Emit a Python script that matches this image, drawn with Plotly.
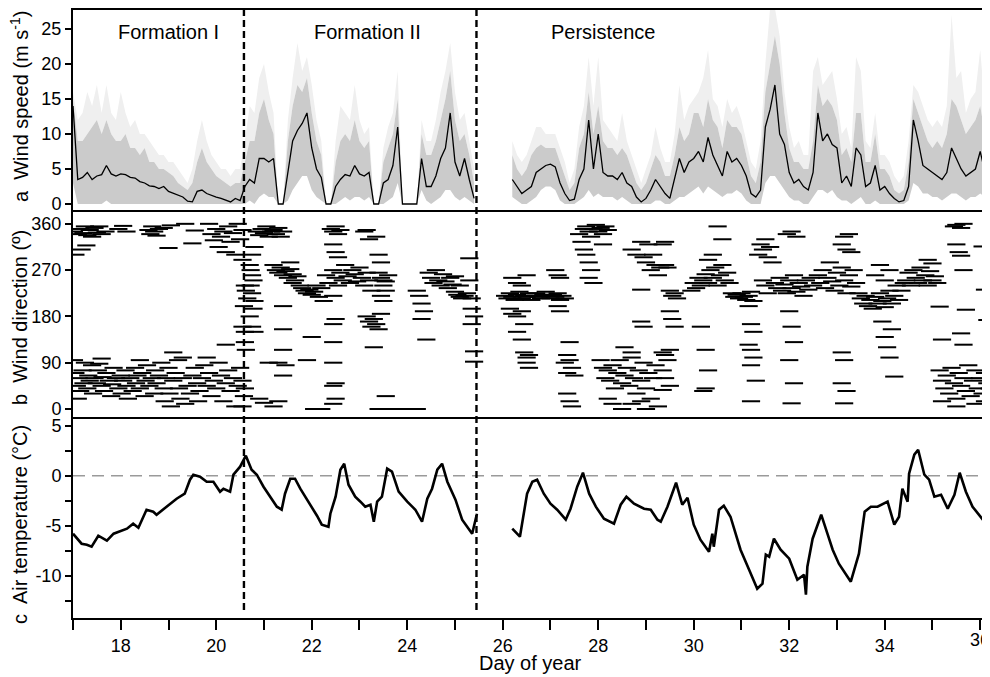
import plotly.graph_objects as go

# ---------------- DATA ----------------
# Wind speed, sampled every 0.1 day from day 17.0 to 36.2 (None = no data)
ws_start, ws_step = 17.0, 0.1
ws_mean = [14.0, 3.5, 3.8, 4.5, 3.5, 4.0, 4.2, 5.5, 4.3, 4.0,
           4.3, 4.2, 3.8, 3.7, 3.2, 3.0, 2.6, 2.5, 2.2, 2.5,
           1.8, 1.5, 1.2, 1.0, 0.4, 0.3, 1.8, 2.0, 1.5, 1.2,
           1.0, 0.8, 0.6, 0.3, 0.8, 0.5, 2.5, 3.5, 3.0, 6.5,
           6.5, 6.0, 6.5, 0, 0, 4.5, 9.0, 10.5, 11.5, 13.0,
           8.0, 5.0, 3.8, 0, 0, 2.5, 3.5, 4.2, 4.0, 5.5,
           4.3, 4.0, 4.5, 0, 0, 3.0, 3.5, 5.5, 11.0, 0,
           0, 0, 0, 6.5, 2.5, 2.5, 4.0, 6.5, 8.0, 13.0,
           6.0, 4.0, 6.5, 3.5, 0.8, None, None, None, None, None,
           None, None, 3.5, 2.5, 1.5, 2.0, 2.5, 4.5, 5.0, 5.5,
           5.7, 5.3, 3.0, 1.5, 0.5, 0.7, 3.5, 5.0, 12.0, 5.0,
           10.0, 4.5, 4.0, 4.0, 3.5, 4.5, 3.0, 2.5, 1.0, 0.3,
           0.8, 2.0, 3.5, 2.5, 1.5, 0.8, 3.5, 6.5, 4.5, 6.0,
           6.5, 7.5, 6.0, 9.5, 7.0, 5.5, 4.0, 7.5, 6.0, 6.5,
           5.5, 4.0, 1.5, 1.0, 2.0, 11.0, 13.5, 17.0, 10.0, 8.5,
           4.5, 3.0, 3.5, 2.5, 2.0, 4.5, 13.0, 9.0, 10.0, 8.5,
           8.0, 3.0, 4.0, 2.5, 8.0, 7.0, 2.5, 3.0, 5.5, 2.0,
           2.5, 1.5, 0.8, 0.3, 0.5, 2.5, 12.0, 9.0, 5.5, 5.0,
           4.5, 4.0, 3.5, 4.5, 8.0, 6.5, 5.0, 4.0, 4.5, 5.0,
           7.5, 4.5, 4.0]
ws_min = [3, 0, 0, 0, 0, 0, 0, 0.5, 0, 0,
          0, 0, 0, 0, 0, 0, 0, 0, 0, 0,
          0, 0, 0, 0, 0, 0, 0, 0, 0, 0,
          0, 0, 0, 0, 0, 0, 0, 0.5, 0, 1,
          1.5, 1, 1, 0, 0, 0.5, 2, 3, 4, 4,
          2, 1, 0.5, 0, 0, 0, 0.5, 1, 0.5, 1,
          1, 0.5, 1, 0, 0, 0, 0.5, 1, 3, 0,
          0, 0, 0, 2, 0.5, 0, 0.5, 1, 2, 2,
          1, 0.5, 1, 0.5, 0, None, None, None, None, None,
          None, None, 1, 0.5, 0, 0, 0.5, 1, 2, 2.5,
          2.5, 2, 0.5, 0, 0, 0, 0.5, 1, 2, 1,
          1.5, 1, 1, 1, 0.5, 1, 0.5, 0, 0, 0,
          0, 0, 0.5, 0.5, 0, 0, 0.5, 1, 1, 1.5,
          2, 2.5, 1.5, 2.5, 2, 1.5, 1, 1.5, 1.5, 2,
          1.5, 0.5, 0, 0, 0, 3, 4, 4, 3, 2,
          1, 0.5, 0.5, 0, 0, 1, 2, 2, 1.5, 2,
          1, 0.5, 0.5, 0, 0.5, 1, 0, 0, 0.5, 0,
          0, 0, 0, 0, 0, 0.5, 3, 2.5, 1.5, 1.5,
          1, 1, 0.5, 1, 1.5, 1.5, 1, 0.5, 1, 1,
          1.5, 1, 1]
ws_max = [15, 9, 9, 10, 11, 12, 10, 12, 10, 9,
          9, 10, 8, 8, 7, 8, 6, 6, 5, 5,
          4.5, 4, 3, 2.5, 2, 3, 6, 8, 6, 5,
          4, 3.5, 3, 2.5, 3, 3, 6, 9, 9, 13,
          15, 12, 10, 0, 0, 9, 14, 17, 16, 18,
          13, 9, 7, 0, 0, 6, 9, 10, 9, 12,
          9, 8, 9, 0, 0, 6, 8, 10, 15, 0,
          0, 0, 0, 10, 7, 7, 9, 12, 15, 19,
          12, 9, 10, 7, 3, None, None, None, None, None,
          None, None, 7, 5, 4, 5, 7, 8, 8.5, 8,
          8, 8, 6, 4, 2, 3, 8, 10, 16, 10,
          14, 9, 8, 8, 7, 8, 7, 5, 3, 2,
          3, 5, 7, 6, 4, 4, 7, 11, 9, 10,
          13, 13, 11, 15, 12, 11, 8, 12, 11, 11,
          10, 7, 4, 3, 6, 16, 20, 24, 20, 13,
          8, 6, 6, 5, 5, 9, 17, 14, 15, 14,
          12, 7, 8, 6, 13, 13, 6, 6, 10, 5,
          5, 4, 2, 1.5, 2, 6, 15, 13, 11, 9,
          8, 9, 8, 10, 15, 14, 12, 10, 11, 12,
          14, 10, 11]
ws_gust = [16, 12, 13, 16, 14, 17, 13, 17, 13, 12,
           16, 13, 11, 12, 10, 10, 9, 8, 7, 7,
           6, 6, 5, 4, 3, 5, 9, 12, 9, 7,
           6, 5, 5, 4, 5, 5, 9, 14, 13, 18,
           20, 16, 13, 0, 0, 12, 18, 23, 19, 21,
           17, 12, 9, 0, 0, 9, 14, 13, 12, 17,
           12, 10, 11, 0, 0, 8, 11, 13, 19, 0,
           0, 0, 0, 12, 9, 9, 12, 16, 19, 23,
           16, 12, 13, 9, 5, None, None, None, None, None,
           None, None, 9, 7, 6, 7, 9, 11, 11, 10,
           10, 10, 8, 6, 3, 5, 11, 14, 21, 14,
           21, 12, 11, 10, 9, 13, 9, 7, 5, 3,
           5, 7, 11, 8, 6, 6, 10, 17, 12, 14,
           15, 16, 18, 22, 15, 14, 11, 15, 13, 14,
           12, 9, 6, 5, 9, 20, 28, 28, 24, 16,
           11, 8, 9, 7, 7, 19, 21, 17, 18, 19,
           15, 10, 11, 8, 21, 19, 9, 8, 13, 7,
           7, 6, 4, 3, 4, 9, 17, 16, 14, 12,
           11, 12, 11, 14, 27, 18, 19, 13, 15, 16,
           22, 14, 15]

# Wind direction observations (day, degrees)
wd_day = [
    # Formation I, northerly
    17.02, 17.05, 17.1, 17.15, 17.18, 17.22, 17.25, 17.28, 17.3, 17.35, 17.4, 17.45, 17.5, 17.55, 17.6, 17.68,
    17.95, 18.05, 18.12, 18.58, 18.62, 18.66, 18.7, 18.75, 18.8, 18.9, 19.0, 19.05, 19.35, 19.5, 19.55,
    19.85, 19.9, 19.95, 20.0, 20.05, 20.1, 20.15, 20.2, 20.25, 20.3, 20.35, 20.4, 20.45, 20.5, 20.55,
    # Formation I, north-easterly
    17.02, 17.05, 17.08, 17.1, 17.12, 17.15, 17.2, 17.22, 17.25, 17.3, 17.32, 17.35, 17.4, 17.42, 17.45, 17.5,
    17.52, 17.55, 17.6, 17.62, 17.65, 17.7, 17.75, 17.8, 17.82, 17.85, 17.9, 17.95, 18.0, 18.02, 18.05, 18.1,
    18.12, 18.15, 18.2, 18.25, 18.3, 18.32, 18.35, 18.4, 18.45, 18.5, 18.52, 18.55, 18.6, 18.65, 18.7, 18.72,
    18.75, 18.8, 18.85, 18.9, 18.92, 18.95, 19.0, 19.02, 19.05, 19.1, 19.15, 19.2, 19.22, 19.25, 19.3, 19.35,
    19.4, 19.45, 19.5, 19.55, 19.6, 19.62, 19.65, 19.7, 19.75, 19.8, 19.85, 19.9, 19.95, 20.0, 20.05, 20.1,
    20.15, 20.2, 20.25, 20.3, 20.35, 20.4, 20.45, 20.5, 20.55, 17.6, 18.4, 19.3, 19.8, 20.2, 19.1,
    20.55, 20.6, 20.58, 20.62, 20.6, 20.65, 20.55, 20.6, 20.62, 20.58, 20.55, 20.6,
    # Formation II
    20.7, 20.72, 20.75, 20.78, 20.72, 20.75, 20.8, 20.78, 20.7, 20.75, 20.8, 20.75, 20.8, 20.85, 20.9, 20.95,
    21.0, 21.05, 21.1, 21.15, 21.2, 21.25, 21.3, 21.35, 21.4, 21.2, 21.25, 21.3, 21.35, 21.4, 21.45, 21.5,
    21.55, 21.6, 21.65, 21.7, 21.55, 21.6, 21.75, 21.8, 21.85, 21.9, 21.95, 22.0, 22.05, 22.1, 22.15, 22.2,
    22.25, 21.4, 21.4, 21.4, 21.1, 21.3, 21.45, 21.4, 20.9, 21.0, 21.2, 21.3, 22.05, 22.2, 22.0, 21.9, 22.3, 22.35,
    22.4, 22.45, 22.5, 22.55, 22.6, 22.45, 22.5, 22.55, 22.45, 22.5, 22.55, 22.6, 22.65, 22.7, 22.75, 22.8,
    22.85, 22.9, 22.95, 23.0, 23.05, 23.1, 23.15, 23.2, 23.25, 22.45, 22.5, 22.45, 22.45, 22.45, 22.5, 22.45,
    22.5, 22.45, 23.1, 23.15, 23.2, 23.35, 23.4, 23.45, 23.4, 23.45, 23.5, 23.55, 23.5, 23.55, 23.6, 23.45,
    23.5, 23.15, 23.2, 23.25, 23.3, 23.35, 23.4, 23.45, 23.3, 23.55, 23.4, 23.6, 23.8, 24.1, 24.2,
    24.2, 24.25, 24.3, 24.35, 24.3, 24.4, 24.45, 24.5, 24.55, 24.6, 24.65, 24.7, 24.75, 24.8, 24.85, 24.9,
    24.95, 25.0, 25.05, 25.1, 25.15, 25.2, 25.25, 25.0, 25.1, 25.3, 25.3, 25.35, 25.35, 25.4, 25.35, 25.4, 25.4,
    # Persistence
    26.05, 26.1, 26.15, 26.2, 26.25, 26.3, 26.35, 26.4, 26.45, 26.5, 26.55, 26.6, 26.65, 26.7, 26.75, 26.8,
    26.85, 26.9, 26.95, 27.0, 27.05, 27.1, 27.15, 27.2, 27.25, 27.3, 26.2, 26.3, 26.4, 26.5, 26.15, 26.2,
    26.3, 26.4, 26.45, 26.3, 26.4, 26.45, 26.5, 26.55, 26.5, 26.55, 27.1, 27.15, 27.2, 27.15, 27.2, 27.3,
    27.35, 27.4, 27.45, 27.35, 27.5, 27.4, 27.35, 27.4, 27.45, 27.6, 27.65, 27.7, 27.75, 27.8, 27.85, 27.9,
    27.95, 28.0, 28.05, 28.1, 28.15, 28.2, 27.7, 27.75, 27.8, 27.85, 27.8, 27.9, 28.1, 28.05, 28.1, 28.15,
    28.2, 28.25, 28.3, 28.35, 28.4, 28.45, 28.5, 28.55, 28.6, 28.65, 28.7, 28.75, 28.8, 28.85, 28.9, 28.95,
    29.0, 29.05, 29.1, 29.15, 29.2, 29.25, 28.2, 28.3, 28.5, 28.7, 28.9, 29.0, 28.55, 28.7, 28.7, 28.8,
    28.9, 28.95, 29.0, 29.05, 29.1, 29.15, 29.2, 29.25, 29.3, 28.9, 28.9, 28.95,
    29.35, 29.4, 29.45, 29.5, 29.35, 29.4, 29.35, 29.5, 29.35, 29.4, 29.4, 29.45, 29.5, 29.55, 29.6, 29.65,
    29.5, 29.55, 29.6, 29.95, 30.0, 30.05, 30.1, 30.15, 30.2, 30.25, 30.3, 30.35, 30.4, 30.45, 30.5, 30.55,
    30.6, 30.65, 30.7, 30.75, 30.3, 30.4, 30.5, 30.6, 30.15, 30.25, 30.3, 30.25, 30.2, 30.8, 30.85, 30.9,
    30.95, 31.0, 31.05, 31.1, 31.15, 31.2, 31.25, 31.15, 31.2, 31.25, 31.15, 31.2, 31.25, 31.2, 31.3, 31.2,
    31.35, 31.4, 31.45, 31.5, 31.55, 31.6, 31.65, 31.45, 31.5, 31.55, 31.7, 31.75, 31.8, 31.85, 31.9, 31.95,
    32.0, 32.05, 32.1, 32.15, 32.2, 32.25, 32.3, 32.35, 32.4, 32.45, 32.5, 31.95, 32.05, 32.15, 32.0, 32.05,
    32.1, 32.0, 32.1, 32.05,
    32.6, 32.65, 32.7, 32.75, 32.8, 32.85, 32.9, 32.95, 33.0, 33.05, 33.1, 33.15, 33.2, 33.25, 33.3, 33.35,
    33.4, 33.1, 33.15, 33.2, 33.25, 33.3, 33.1, 33.15, 33.1, 33.2, 33.15, 33.45, 33.5, 33.55, 33.6, 33.65,
    33.7, 33.75, 33.8, 33.85, 33.9, 33.95, 34.0, 34.05, 34.1, 34.15, 34.2, 34.25, 34.3, 34.35, 34.4, 33.8,
    33.9, 34.0, 34.1, 33.95, 34.0, 34.05, 34.1, 34.15, 34.2, 34.45, 34.5, 34.55, 34.6, 34.65, 34.7, 34.75,
    34.8, 34.85, 34.9, 34.95, 35.0, 35.05, 35.1, 34.9, 35.0, 35.15,
    35.15, 35.2, 35.25, 35.3, 35.35, 35.4, 35.45, 35.5, 35.55, 35.6, 35.65, 35.7, 35.75, 35.8, 35.85, 35.9,
    35.95, 36.0, 36.05, 36.1, 36.15, 36.2, 35.2, 35.5, 35.9, 36.1, 35.45, 35.5, 35.6, 35.65, 35.5, 35.55,
    35.6, 35.65, 35.7, 35.6, 35.65, 35.2, 36.05, 36.1, 36.15]
wd_deg = [
    345, 300, 340, 350, 310, 342, 355, 318, 338, 348, 335, 352, 343, 355, 340, 345,
    350, 356, 345, 348, 340, 355, 345, 337, 350, 352, 313, 357, 360, 322, 347,
    360, 340, 328, 350, 315, 335, 345, 305, 355, 325, 342, 300, 360, 330, 348,
    95, 70, 45, 20, 60, 35, 75, 50, 90, 40, 65, 55, 85, 30, 60, 50,
    75, 88, 45, 62, 35, 70, 55, 25, 48, 80, 60, 40, 65, 30, 55, 75,
    45, 20, 60, 35, 80, 50, 65, 40, 70, 25, 55, 85, 45, 60, 30, 75,
    50, 65, 90, 40, 15, 60, 80, 30, 5, 55, 70, 95, 40, 20, 60, 10,
    45, 30, 65, 80, 50, 15, 35, 60, 85, 45, 70, 25, 55, 40, 90, 65,
    15, 50, 75, 35, 60, 5, 45, 80, 55, 98, 95, 100, 100, 125, 110,
    160, 150, 200, 230, 240, 215, 290, 130, 115, 25, 5, 40,
    280, 270, 260, 250, 240, 225, 210, 195, 180, 160, 150, 300, 315, 345, 338, 350,
    342, 355, 335, 345, 348, 340, 352, 335, 345, 280, 270, 265, 275, 260, 268, 255,
    272, 262, 250, 258, 285, 245, 240, 235, 230, 225, 232, 222, 228, 240, 218, 235,
    210, 200, 155, 115, 90, 90, 85, 65, 20, 12, 5, 15, 0, 0, 140, 95, 260, 245,
    350, 345, 355, 340, 348, 320, 305, 295, 270, 255, 240, 265, 250, 280, 258, 245,
    270, 262, 248, 275, 255, 240, 265, 250, 230, 220, 175, 165, 130, 90, 50, 45,
    20, 10, 345, 348, 330, 335, 300, 285, 265, 255, 250, 248, 240, 230, 260, 220,
    210, 180, 170, 160, 175, 165, 155, 185, 120, 25, 0, 0, 0, 0, 0,
    230, 220, 205, 190, 175, 135, 265, 255, 245, 270, 250, 240, 262, 248, 235, 255,
    242, 228, 222, 218, 215, 220, 225, 258, 240, 250, 293, 215, 195, 180, 165, 112, 92,
    220, 215, 225, 218, 212, 222, 228, 215, 220, 218, 225, 212, 220, 225, 218, 215,
    222, 228, 220, 215, 222, 218, 225, 212, 220, 215, 255, 245, 240, 260, 195, 185,
    180, 190, 165, 150, 135, 110, 100, 105, 90, 80, 270, 260, 255, 200, 190, 90,
    105, 95, 80, 70, 65, 130, 30, 15, 5, 340, 325, 350, 355, 345, 335, 350,
    358, 345, 352, 340, 355, 348, 310, 300, 285, 270, 255, 245, 320, 95, 80, 60,
    75, 55, 85, 40, 70, 95, 50, 65, 80, 45, 100, 60, 30, 75, 55, 90,
    40, 70, 20, 60, 85, 5, 20, 10, 0, 10, 15, 0, 120, 110, 310, 300,
    325, 295, 285, 320, 270, 300, 280, 260, 275, 232, 170, 160,
    110, 105, 95, 115, 75, 60, 37, 45, 320, 325, 280, 275, 230, 220, 225, 215,
    190, 175, 160, 230, 245, 235, 255, 240, 250, 262, 245, 270, 255, 275, 240, 260,
    280, 250, 265, 245, 290, 300, 355, 330, 160, 115, 75, 40, 35, 225, 218, 222,
    215, 225, 218, 212, 220, 228, 210, 200, 165, 150, 125, 115, 100, 85, 55, 15,
    300, 320, 310, 330, 295, 315, 285, 250, 240, 225, 245, 235, 255, 230, 242, 225,
    250, 235, 260, 228, 245, 238, 220, 250, 232, 255, 240, 340, 345, 335, 190, 160,
    130, 95, 50, 11,
    260, 245, 270, 235, 255, 285, 248, 230, 265, 240, 275, 250, 225, 260, 238, 270,
    245, 320, 335, 310, 340, 305, 110, 95, 50, 35, 11, 225, 215, 205, 220, 200,
    212, 195, 218, 205, 225, 210, 198, 215, 230, 205, 220, 240, 212, 230, 245, 260,
    280, 250, 270, 170, 140, 120, 100, 155, 63, 250, 265, 240, 270, 255, 245, 275,
    250, 260, 240, 268, 250, 258, 245, 290, 283, 199,
    75, 55, 40, 65, 30, 80, 50, 20, 70, 45, 60, 35, 85, 25, 55, 75,
    40, 60, 30, 70, 50, 40, 15, 5, 10, 15, 355, 358, 352, 360, 320, 305,
    298, 270, 193, 147, 125, 135, 316, 232, 173]

# Air temperature (day, deg C); None marks the data gap
t_day = [17.0, 17.18, 17.29, 17.39, 17.53, 17.64, 17.71, 17.85, 18.13, 18.26, 18.37, 18.54, 18.68, 18.75,
         18.96, 19.17, 19.34, 19.45, 19.52, 19.66, 19.8, 19.94, 20.08, 20.15, 20.29, 20.36, 20.5, 20.62,
         20.74, 20.85, 20.99, 21.13, 21.27, 21.37, 21.44, 21.55, 21.65, 21.76, 21.97, 22.11, 22.21, 22.35,
         22.39, 22.5, 22.6, 22.68, 22.77, 22.91, 23.02, 23.12, 23.23, 23.3, 23.37, 23.47, 23.58, 23.68,
         23.82, 24.0, 24.17, 24.31, 24.42, 24.52, 24.63, 24.73, 24.84, 25.01, 25.15, 25.26, 25.36, 25.46,
         25.8,
         26.2, 26.36, 26.51, 26.62, 26.72, 26.86, 27.0, 27.14, 27.32, 27.42, 27.56, 27.68, 27.81, 27.95,
         28.12, 28.33, 28.47, 28.59, 28.75, 28.96, 29.1, 29.24, 29.31, 29.45, 29.63, 29.76, 29.87, 30.0,
         30.14, 30.32, 30.39, 30.42, 30.53, 30.63, 30.77, 30.98, 31.16, 31.33, 31.44, 31.51, 31.58, 31.68,
         31.82, 32.0, 32.17, 32.31, 32.35, 32.38, 32.49, 32.67, 32.8, 32.91, 33.04, 33.18, 33.29, 33.46,
         33.58, 33.71, 33.85, 34.06, 34.2, 34.3, 34.37, 34.48, 34.51, 34.62, 34.7, 34.83, 34.93, 35.04,
         35.18, 35.32, 35.46, 35.57, 35.7, 35.84, 36.05, 36.22]
t_val = [-5.8, -6.8, -6.9, -7.1, -6.0, -6.3, -6.5, -5.8, -5.3, -4.8, -5.2, -3.4, -3.6, -3.9,
         -3.1, -2.3, -1.8, -0.4, 0.1, -0.1, -0.6, -0.6, -1.6, -1.3, -1.6, 0.1, 0.9, 2.0,
         0.6, 0.1, -1.1, -2.1, -3.1, -3.4, -1.8, -0.3, -0.3, -1.3, -2.9, -4.0, -4.9, -5.1,
         -3.8, -2.1, 0.6, 1.2, -0.9, -2.1, -2.6, -3.1, -2.9, -4.6, -2.6, -2.1, 0.7, 0.4,
         -1.6, -2.6, -3.4, -4.6, -2.3, -1.3, 0.6, 1.2, -0.6, -2.4, -4.4, -5.1, -5.8, -3.8,
         None,
         -5.3, -6.1, -1.8, -0.6, -0.4, -1.8, -2.8, -3.4, -4.4, -3.3, -1.1, 0.3, -1.8, -3.1,
         -4.3, -4.8, -2.9, -2.1, -2.8, -3.3, -3.4, -4.4, -4.6, -3.1, -0.7, -2.9, -2.2, -4.9,
         -6.4, -7.6, -5.8, -7.1, -3.4, -3.0, -4.1, -7.4, -9.4, -11.3, -10.8, -7.9, -8.1, -6.3,
         -7.4, -8.3, -10.4, -9.9, -11.9, -9.1, -6.3, -3.9, -5.8, -7.4, -8.8, -9.8, -10.6, -7.8,
         -3.6, -3.1, -3.1, -2.6, -4.9, -4.1, -1.3, -2.6, 0.2, 2.1, 2.6, 0.1, -0.4, -2.1,
         -1.9, -3.3, -1.9, 0.3, -1.6, -3.1, -4.4, -5.4]

phase_bounds = [20.58, 25.45]
phase_names = ["Formation I", "Formation II", "Persistence"]
phase_label_days = [18.99, 23.16, 28.11]
x_tick_days = list(range(17, 37))

# ---------------- FIGURE ----------------
FONT = "Liberation Sans, Arial, sans-serif"
ws_day = [round(ws_start + ws_step * i, 2) for i in range(len(ws_mean))]

# the page body adds an 8 px margin, so the figure is 8 px smaller and
# every screen position below is given in screen pixels
OFF = 8
W, Hfig = 990 - OFF, 677 - OFF
L = 73 - OFF
plot_top, plot_bot = 10, 618          # screen pixels
PH = plot_bot - plot_top
PW = W - L


def frac(px):
    return (plot_bot - px) / PH


def xfrac(px):
    return (px - 73) / PW


def segments(xs, *cols):
    """split parallel lists into runs without None"""
    runs, cur = [], []
    for i, _ in enumerate(xs):
        if any(c[i] is None for c in cols):
            if cur:
                runs.append(cur)
            cur = []
        else:
            cur.append(i)
    if cur:
        runs.append(cur)
    return runs


fig = go.Figure()

for run in segments(ws_day, ws_mean, ws_min, ws_max, ws_gust):
    xs = [ws_day[i] for i in run]
    fig.add_trace(go.Scatter(x=xs, y=[ws_max[i] for i in run], mode="lines",
                             line=dict(width=0), hoverinfo="skip", showlegend=False,
                             xaxis="x", yaxis="y"))
    fig.add_trace(go.Scatter(x=xs, y=[ws_gust[i] for i in run], mode="lines",
                             line=dict(width=0), fill="tonexty", fillcolor="#efefef",
                             hoverinfo="skip", showlegend=False, xaxis="x", yaxis="y"))
    fig.add_trace(go.Scatter(x=xs, y=[ws_min[i] for i in run], mode="lines",
                             line=dict(width=0), hoverinfo="skip", showlegend=False,
                             xaxis="x", yaxis="y"))
    fig.add_trace(go.Scatter(x=xs, y=[ws_max[i] for i in run], mode="lines",
                             line=dict(width=0), fill="tonexty", fillcolor="#cbcbcb",
                             hoverinfo="skip", showlegend=False, xaxis="x", yaxis="y"))
    fig.add_trace(go.Scatter(x=xs, y=[ws_mean[i] for i in run], mode="lines",
                             line=dict(color="black", width=1.3), showlegend=False,
                             xaxis="x", yaxis="y"))

fig.add_trace(go.Scatter(x=wd_day, y=wd_deg, mode="markers",
                         marker=dict(symbol="line-ew", size=13,
                                     line=dict(color="black", width=2)),
                         showlegend=False, xaxis="x2", yaxis="y2"))

fig.add_trace(go.Scatter(x=t_day, y=t_val, mode="lines", connectgaps=False,
                         line=dict(color="black", width=2.6), showlegend=False,
                         xaxis="x3", yaxis="y3"))

XR = [17.0, 36.205]

common_x = dict(range=XR, showline=True, linecolor="black", linewidth=2,
                showgrid=False, zeroline=False)
common_y = dict(showline=True, linecolor="black", linewidth=2, showgrid=False,
                zeroline=False, ticks="outside", ticklen=6, tickwidth=1.5,
                tickcolor="black", tickfont=dict(size=18, color="black", family=FONT))

fig.update_layout(
    width=W, height=Hfig,
    margin=dict(l=L, r=0, t=plot_top - OFF, b=Hfig - (plot_bot - OFF), autoexpand=False),
    plot_bgcolor="white", paper_bgcolor="white",
    font=dict(family=FONT, color="black"),
    # top panel: only its top frame line (bottom one is drawn by the middle panel)
    xaxis=dict(**common_x, anchor="y", side="top", mirror=False,
               showticklabels=False, ticks=""),
    xaxis2=dict(**common_x, anchor="y2", mirror=True, showticklabels=False, ticks="",
                matches="x"),
    xaxis3=dict(**common_x, anchor="y3", matches="x",
                tickmode="array", tickvals=x_tick_days,
                ticktext=[str(d) if d % 2 == 0 and d < 36 else "" for d in x_tick_days],
                ticks="outside", ticklen=10, tickwidth=2, tickcolor="black",
                tickfont=dict(size=18, color="black", family=FONT)),
    yaxis=dict(**common_y, domain=[frac(212), 1.0], range=[-1.14, 27.7],
               tickvals=[0, 5, 10, 15, 20, 25]),
    yaxis2=dict(**common_y, domain=[frac(417), frac(212)], range=[-15.6, 383],
                tickvals=[0, 90, 180, 270, 360]),
    yaxis3=dict(**common_y, domain=[0, frac(417)], range=[-14.23, 5.87],
                tickmode="array", tickvals=[-12.5, -10, -7.5, -5, -2.5, 0, 2.5, 5],
                ticktext=["", "-10", "", "-5", "", "0", "", "5"]),
)

# last tick label (partly cut at the right edge as in the original)
fig.add_annotation(x=36, y=frac(640), xref="x3", yref="paper", text="36",
                   showarrow=False, xanchor="center", yanchor="middle",
                   font=dict(size=18, color="black", family=FONT))

# zero line in temperature panel
fig.add_shape(type="line", xref="x3", yref="y3", x0=XR[0], x1=XR[1], y0=0, y1=0,
              line=dict(color="#9a9a9a", width=1.6, dash="12px,7px"), layer="below")

# phase boundaries
for b in phase_bounds:
    fig.add_shape(type="line", xref="x3", yref="paper", x0=b, x1=b,
                  y0=frac(610), y1=1.0,
                  line=dict(color="black", width=2.4, dash="7px,4px"))

for name, d in zip(phase_names, phase_label_days):
    fig.add_annotation(x=d, y=24.6, xref="x", yref="y", text=name, showarrow=False,
                       font=dict(size=20, color="black", family=FONT))

ytitles = [("a  Wind speed (m s<sup>-1</sup>)", 107),
           ("b  Wind direction (º)", 318),
           ("c  Air temperature (°C)", 525)]
for txt, cy in ytitles:
    fig.add_annotation(x=xfrac(20), y=frac(cy), xref="paper", yref="paper",
                       text=txt, textangle=-90, showarrow=False,
                       xanchor="center", yanchor="middle",
                       font=dict(size=20, color="black", family=FONT))

fig.add_annotation(x=xfrac(530), y=frac(663), xref="paper", yref="paper",
                   text="Day of year", showarrow=False, xanchor="center", yanchor="middle",
                   font=dict(size=20, color="black", family=FONT))

fig.write_html("out.html")
